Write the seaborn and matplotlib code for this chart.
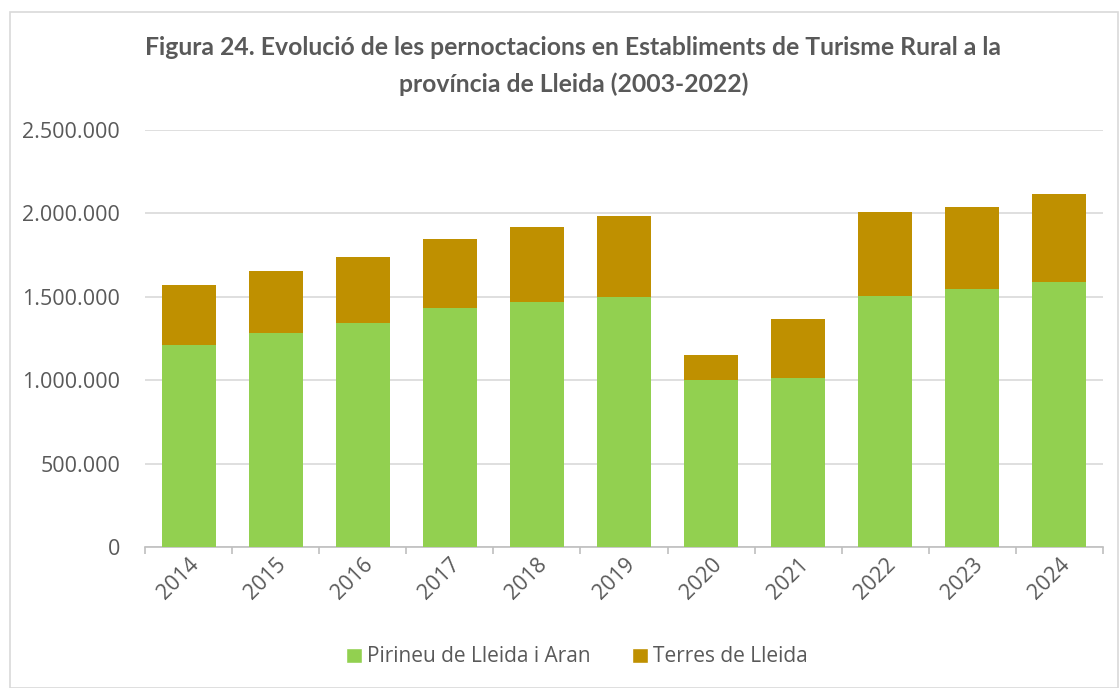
import matplotlib
matplotlib.use("Agg")
import matplotlib.pyplot as plt
import matplotlib.ticker as mticker
from matplotlib.patches import Rectangle, Patch
import seaborn as sns
import pandas as pd
import numpy as np

years = ["2014", "2015", "2016", "2017", "2018", "2019", "2020", "2021", "2022", "2023", "2024"]
pirineu = [1213000, 1285000, 1345000, 1431000, 1470000, 1497000, 1001000, 1015000, 1507000, 1548000, 1590000]
terres = [360000, 371000, 392000, 413000, 446000, 487000, 152000, 352000, 503000, 492000, 526000]

title = "Figura 24. Evolució de les pernoctacions en Establiments de Turisme Rural a la\nprovíncia de Lleida (2003-2022)"
series_names = ["Pirineu de Lleida i Aran", "Terres de Lleida"]
c_green = "#92D050"
c_gold = "#BF9000"
txt = "#595959"

df = pd.DataFrame({"year": years, "pirineu": pirineu, "terres": terres})
df["total"] = df["pirineu"] + df["terres"]

sns.set_theme(style="white")
plt.rcParams["font.family"] = ["Open Sans", "DejaVu Sans"]

fig = plt.figure(figsize=(11.2, 6.88), dpi=100)
ax = fig.add_axes([145/1120, 1 - 547/688, (1103-145)/1120, (547-130)/688])

sns.barplot(data=df, x="year", y="total", color=c_gold, width=0.62, ax=ax,
            saturation=1, edgecolor="none", zorder=3)
sns.barplot(data=df, x="year", y="pirineu", color=c_green, width=0.62, ax=ax,
            saturation=1, edgecolor="none", zorder=4)

ax.set_ylim(0, 2500000)
ax.set_xlim(-0.5, len(years) - 0.5)
ax.yaxis.set_major_locator(mticker.MultipleLocator(500000))
ax.yaxis.set_major_formatter(mticker.FuncFormatter(lambda v, p: f"{int(v):,}".replace(",", ".")))
ax.grid(axis="y", color="#D9D9D9", linewidth=1.2, zorder=0)
ax.set_axisbelow(True)
for s in ["top", "right", "left"]:
    ax.spines[s].set_visible(False)
ax.spines["bottom"].set_color("#BFBFBF")
ax.spines["bottom"].set_linewidth(1.2)
ax.set_xlabel("")
ax.set_ylabel("")
ax.tick_params(axis="y", length=0, labelsize=15.5, labelcolor=txt, pad=18)
ax.tick_params(axis="x", which="major", length=0, labelsize=15.5, labelcolor=txt, pad=5)
ax.set_xticks(np.arange(len(years)))
ax.set_xticklabels(years, rotation=45, ha="right", rotation_mode="anchor")
ax.set_xticks(np.arange(-0.5, len(years)), minor=True)
ax.tick_params(axis="x", which="minor", length=5, color="#BFBFBF", width=1.2, direction="out")
ax.xaxis.set_tick_params(which="minor", bottom=True)

fig.text(0.512, 1 - 66/688, title, ha="center", va="center", fontsize=17.8,
         fontweight="bold", color=txt, family=["Lato", "DejaVu Sans"], linespacing=1.7)

handles = [Patch(facecolor=c_green, label=series_names[0]),
           Patch(facecolor=c_gold, label=series_names[1])]
fig.legend(handles=handles, loc="center", bbox_to_anchor=(0.515, 1 - 657/688), ncol=2,
           frameon=False, fontsize=15, labelcolor=txt, handlelength=0.75, handleheight=0.75,
           handletextpad=0.25, columnspacing=2.0)

fig.patches.append(Rectangle((10/1120, 0), 1108/1120, 1 - 12/688, transform=fig.transFigure,
                             fill=False, edgecolor="#D9D9D9", linewidth=1.2))

fig.savefig("out.png", dpi=100, facecolor="white")
